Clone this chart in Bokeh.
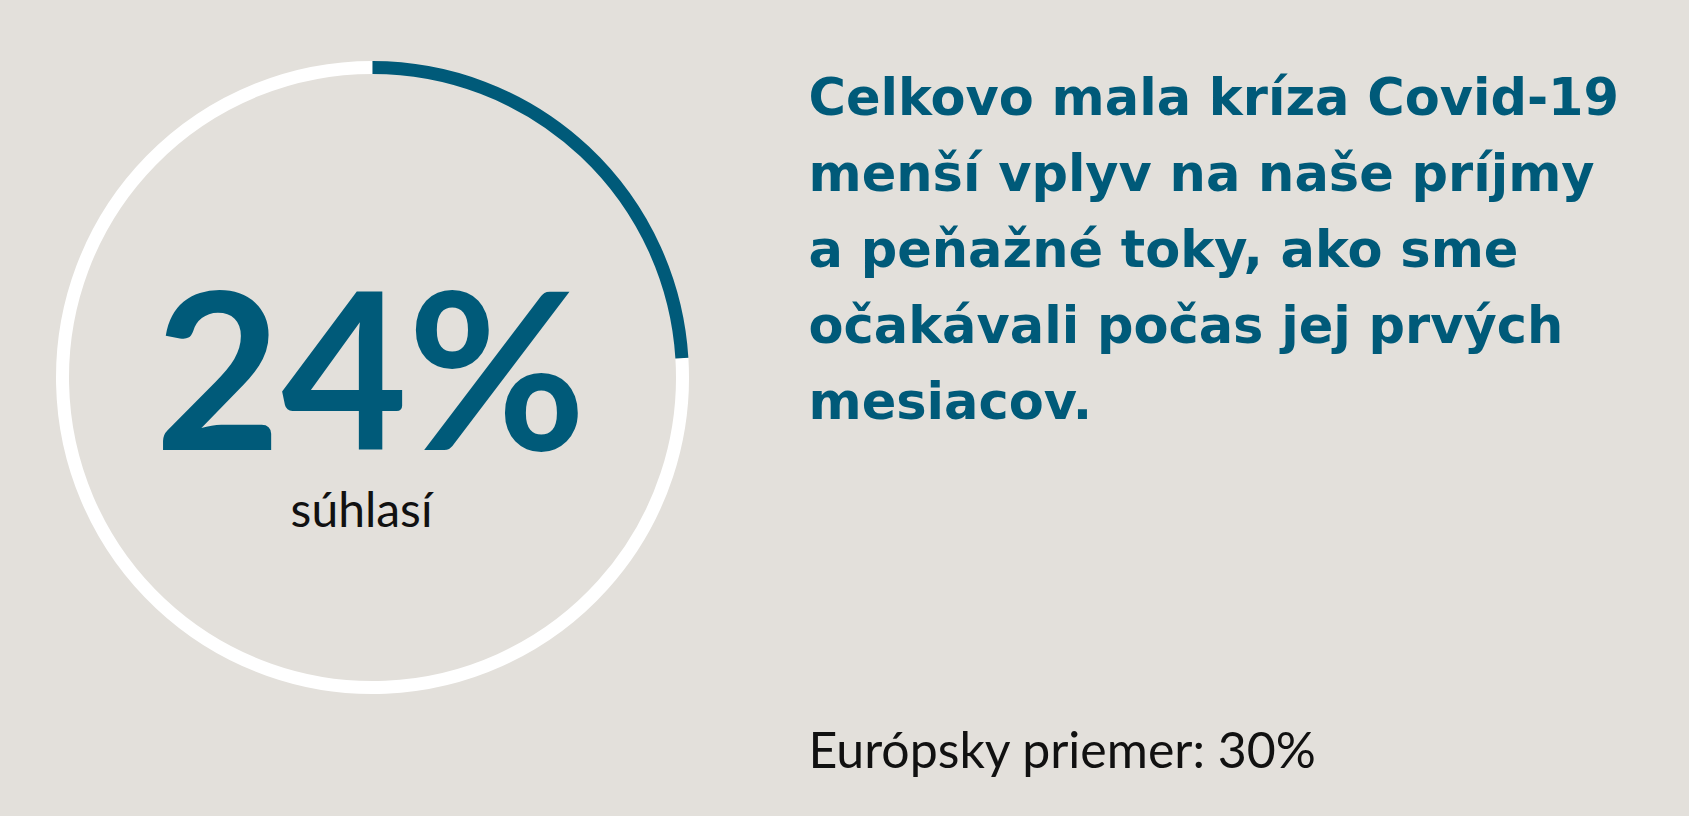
from bokeh.plotting import figure
from bokeh.embed import file_html
from bokeh.resources import INLINE
from bokeh.core.properties import value
import math

# ---- data ----
agree_share = 24            # % who agree
european_average = 30       # %
big_label = "24%"
sub_label = "súhlasí"
title_lines = [
    "Celkovo mala kríza Covid-19",
    "menší vplyv na naše príjmy",
    "a peňažné toky, ako sme",
    "očakávali počas jej prvých",
    "mesiacov.",
]
footer_label = "Európsky priemer: 30%"

# ---- styles ----
BG = "#E3E0DB"
BLUE = "#005A79"
W, H = 1689, 816
BASE_FIX = 0.385   # empirical baseline correction (fraction of font size)

def px(x):
    return x

def py(y, size=0):
    return H - y + BASE_FIX * size

p = figure(width=W, height=H, x_range=(0, W), y_range=(0, H),
           output_backend="svg", toolbar_location=None, min_border=0)
p.axis.visible = False
p.grid.visible = False
p.outline_line_color = None
p.background_fill_color = BG
p.border_fill_color = BG

cx, cy, r = px(372), py(377), 310
end_deg = 90 - agree_share / 100 * 360
# remaining (white) part
p.arc(x=[cx], y=[cy], radius=r, radius_units="screen",
      start_angle=[math.radians(90)], end_angle=[math.radians(end_deg + 360)],
      direction="anticlock", line_color="white", line_width=13)
# agree part (blue)
p.arc(x=[cx], y=[cy], radius=r, radius_units="screen",
      start_angle=[math.radians(end_deg)], end_angle=[math.radians(90)],
      direction="anticlock", line_color=BLUE, line_width=13)

big_size = 218
p.text(x=[px(370)], y=[py(449, big_size)], text=[big_label], text_align="center",
       text_baseline="alphabetic", text_font=value("Lato"), text_font_style="bold",
       text_font_size=f"{big_size}px", text_color=BLUE)
sub_size = 48
p.text(x=[px(361)], y=[py(526, sub_size)], text=[sub_label], text_align="center",
       text_baseline="alphabetic", text_font=value("Lato"),
       text_font_size=f"{sub_size}px", text_color="#111111")

title_size = 51
base0, step = 117, 75.8
p.text(x=[px(808)] * len(title_lines),
       y=[py(base0 + i * step, title_size) for i in range(len(title_lines))],
       text=title_lines, text_align="left", text_baseline="alphabetic",
       text_font=value("DejaVu Sans"), text_font_style="bold",
       text_font_size=f"{title_size}px", text_color=BLUE)

foot_size = 50
p.text(x=[px(808)], y=[py(768, foot_size)], text=[footer_label], text_align="left",
       text_baseline="alphabetic", text_font=value("Lato"),
       text_font_size=f"{foot_size}px", text_color="#111111")

html = file_html(p, INLINE)
html = html.replace("<head>", "<head><style>body{background:%s;}</style>" % BG, 1)
open("out.html", "w").write(html)
